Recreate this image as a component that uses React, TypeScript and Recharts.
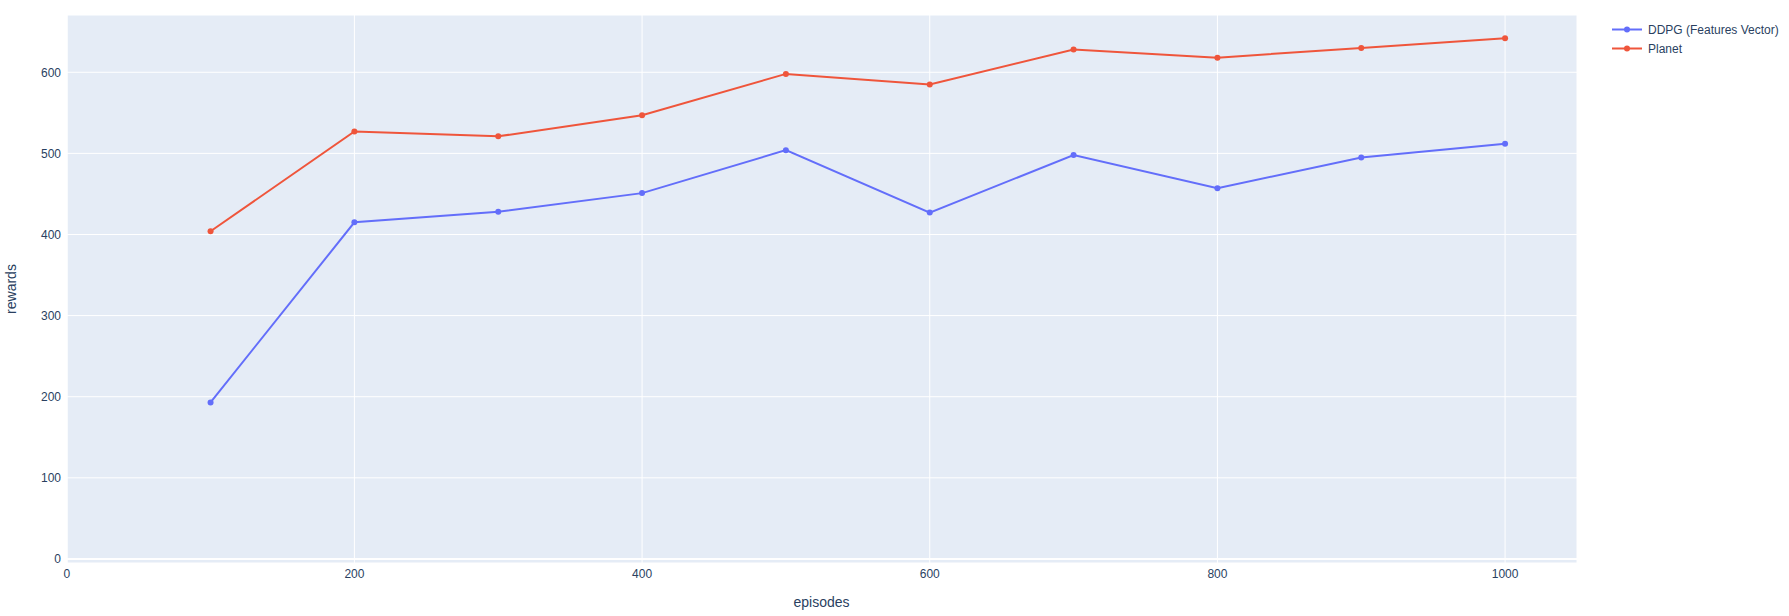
import React from 'react';
import {
  LineChart,
  Line,
  XAxis,
  YAxis,
  CartesianGrid,
  ReferenceLine,
} from 'recharts';

const episodes = [100, 200, 300, 400, 500, 600, 700, 800, 900, 1000];
const ddpgRewards = [193, 415, 428, 451, 504, 427, 498, 457, 495, 512];
const planetRewards = [404, 527, 521, 547, 598, 585, 628, 618, 630, 642];
const xTicks = [0, 200, 400, 600, 800, 1000];
const yTicks = [0, 100, 200, 300, 400, 500, 600];

const seriesNames = ['DDPG (Features Vector)', 'Planet'];
const seriesColors = ['#636efa', '#EF553B'];

const data = episodes.map((e, i) => ({
  episode: e,
  ddpg: ddpgRewards[i],
  planet: planetRewards[i],
}));

const FONT = '"Liberation Sans", Arial, sans-serif';
const TEXT = '#2a3f5f';

const LegendBox = () => (
  <div
    style={{
      position: 'absolute',
      left: 1607,
      top: 20,
      fontFamily: FONT,
      fontSize: 12,
      color: TEXT,
    }}
  >
    {seriesNames.map((n, i) => (
      <div key={n} style={{ display: 'flex', alignItems: 'center', height: 19 }}>
        <svg width={41} height={19} style={{ display: 'block' }}>
          <line x1={5} x2={35} y1={9.5} y2={9.5} stroke={seriesColors[i]} strokeWidth={2} />
          <circle cx={20} cy={9.5} r={3} fill={seriesColors[i]} />
        </svg>
        <span style={{ whiteSpace: 'nowrap' }}>{n}</span>
      </div>
    ))}
  </div>
);

export default function App() {
  return (
    <div style={{ position: 'absolute', left: 0, top: 0, width: 1789, height: 616, background: '#fff' }}>
      <LineChart
        width={1789}
        height={616}
        data={data}
        margin={{ top: 15, right: 212, bottom: 0, left: 0 }}
      >
        <CartesianGrid fill="#E5ECF6" stroke="#ffffff" strokeWidth={1} />
        <XAxis
          dataKey="episode"
          type="number"
          domain={[-0.5, 1050]}
          ticks={xTicks}
          allowDataOverflow
          height={53}
          axisLine={false}
          tickLine={false}
          tickSize={0}
          tickMargin={6}
          tick={{ fill: TEXT, fontSize: 12, fontFamily: FONT }}
          label={({ viewBox }: any) => (
            <text
              x={viewBox.x + viewBox.width / 2}
              y={viewBox.y + 44}
              textAnchor="middle"
              fill={TEXT}
              fontSize={14}
              fontFamily={FONT}
            >
              episodes
            </text>
          )}
        />
        <YAxis
          type="number"
          domain={[-5, 670.6]}
          ticks={yTicks}
          allowDataOverflow
          width={66}
          axisLine={false}
          tickLine={false}
          tickSize={0}
          tickMargin={5}
          tick={{ fill: TEXT, fontSize: 12, fontFamily: FONT }}
          label={({ viewBox }: any) => (
            <text
              transform={`translate(16,${viewBox.y + viewBox.height / 2}) rotate(-90)`}
              textAnchor="middle"
              fill={TEXT}
              fontSize={14}
              fontFamily={FONT}
            >
              rewards
            </text>
          )}
        />
        <ReferenceLine y={0} stroke="#ffffff" strokeWidth={2} />
        <ReferenceLine x={0} stroke="#ffffff" strokeWidth={2} />
        <Line
          type="linear"
          dataKey="ddpg"
          name={seriesNames[0]}
          stroke={seriesColors[0]}
          strokeWidth={2}
          dot={{ r: 3, fill: seriesColors[0], stroke: seriesColors[0], strokeWidth: 0 }}
          activeDot={false}
          isAnimationActive={false}
        />
        <Line
          type="linear"
          dataKey="planet"
          name={seriesNames[1]}
          stroke={seriesColors[1]}
          strokeWidth={2}
          dot={{ r: 3, fill: seriesColors[1], stroke: seriesColors[1], strokeWidth: 0 }}
          activeDot={false}
          isAnimationActive={false}
        />
      </LineChart>
      <LegendBox />
    </div>
  );
}
